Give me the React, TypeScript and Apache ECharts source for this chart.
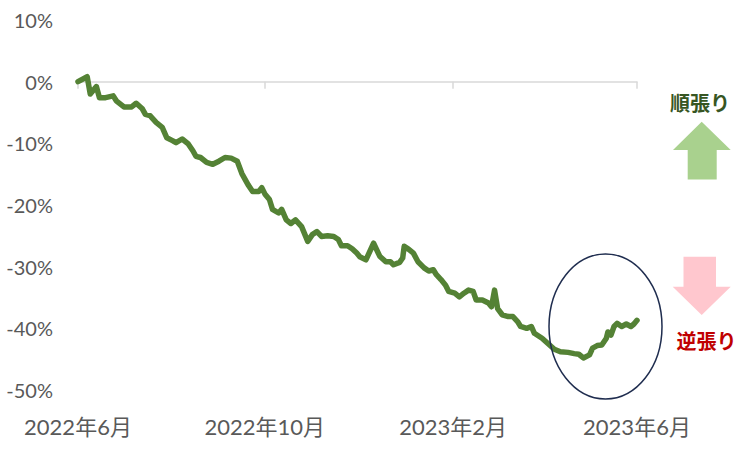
import React, { useEffect, useRef } from "react";
import * as echarts from "echarts";

const dates = [
  "2022-06-01", "2022-06-07", "2022-06-09", "2022-06-13", "2022-06-15", "2022-06-19", "2022-06-24", "2022-06-26",
  "2022-07-01", "2022-07-06", "2022-07-09", "2022-07-13", "2022-07-15", "2022-07-18", "2022-07-22", "2022-07-26",
  "2022-07-29", "2022-08-02", "2022-08-04", "2022-08-08", "2022-08-12", "2022-08-15", "2022-08-17", "2022-08-20",
  "2022-08-24", "2022-08-28", "2022-09-01", "2022-09-05", "2022-09-09", "2022-09-13", "2022-09-16", "2022-09-20",
  "2022-09-23", "2022-09-27", "2022-09-29", "2022-10-01", "2022-10-04", "2022-10-06", "2022-10-10", "2022-10-12",
  "2022-10-15", "2022-10-18", "2022-10-21", "2022-10-25", "2022-10-29", "2022-11-01", "2022-11-04", "2022-11-07",
  "2022-11-11", "2022-11-15", "2022-11-18", "2022-11-20", "2022-11-24", "2022-11-27", "2022-11-30", "2022-12-02",
  "2022-12-06", "2022-12-11", "2022-12-15", "2022-12-19", "2022-12-22", "2022-12-24", "2022-12-28", "2022-12-30",
  "2022-12-31", "2023-01-03", "2023-01-06", "2023-01-09", "2023-01-13", "2023-01-16", "2023-01-19", "2023-01-21",
  "2023-01-24", "2023-01-27", "2023-01-29", "2023-02-02", "2023-02-05", "2023-02-08", "2023-02-11", "2023-02-14",
  "2023-02-16", "2023-02-20", "2023-02-24", "2023-02-26", "2023-02-28", "2023-03-02", "2023-03-05", "2023-03-09",
  "2023-03-12", "2023-03-15", "2023-03-17", "2023-03-21", "2023-03-24", "2023-03-26", "2023-03-31", "2023-04-04",
  "2023-04-08", "2023-04-12", "2023-04-17", "2023-04-21", "2023-04-24", "2023-04-27", "2023-05-01", "2023-05-03",
  "2023-05-06", "2023-05-09", "2023-05-12", "2023-05-13", "2023-05-15", "2023-05-17", "2023-05-19", "2023-05-22",
  "2023-05-25", "2023-05-28", "2023-05-30", "2023-06-01",
];

const returns = [
  0.0, 0.8, -2.0, -0.8, -2.6, -2.6, -2.3, -3.1,
  -4.1, -4.1, -3.5, -4.4, -5.3, -5.5, -6.6, -7.4,
  -9.1, -9.6, -9.9, -9.3, -10.1, -11.2, -12.1, -12.3,
  -13.1, -13.4, -12.9, -12.3, -12.4, -12.9, -14.9, -16.7,
  -17.8, -17.8, -17.2, -18.2, -19.1, -20.7, -21.3, -20.7,
  -22.4, -23.0, -22.4, -23.5, -25.9, -24.8, -24.3, -25.1,
  -25.0, -25.1, -25.6, -26.6, -26.6, -27.1, -27.8, -28.4,
  -28.9, -26.2, -28.3, -29.2, -29.2, -29.7, -29.3, -28.6,
  -26.7, -27.2, -27.8, -29.2, -30.2, -30.7, -30.5, -31.3,
  -32.1, -33.0, -34.0, -34.3, -34.9, -34.3, -33.8, -34.0,
  -35.4, -35.4, -35.9, -36.5, -33.8, -36.8, -37.8, -38.1,
  -38.1, -38.9, -39.7, -40.0, -39.7, -40.8, -41.6, -42.5,
  -43.4, -43.8, -43.9, -44.1, -44.2, -44.8, -44.3, -43.2,
  -42.8, -42.7, -41.6, -40.6, -41.1, -39.7, -39.2, -39.7,
  -39.3, -39.7, -39.3, -38.7,
];

const tickDates = ["2022-06-01", "2022-10-01", "2023-02-01", "2023-06-01"];
const tickLabels = ["2022年6月", "2022年10月", "2023年2月", "2023年6月"];

const yMin = -50;
const yMax = 10;
const yStep = 10;

const START = Date.parse("2022-06-01T00:00:00Z");
const toDay = (d: string) => Math.round((Date.parse(d + "T00:00:00Z") - START) / 86400000);

const FONT = "Lato, 'Noto Sans CJK JP', sans-serif";

export default function App() {
  const ref = useRef<HTMLDivElement>(null);

  useEffect(() => {
    if (!ref.current) return;
    const chart = echarts.init(ref.current, null, { renderer: "svg" });
    const tickDays = tickDates.map(toDay);
    const seriesData = dates.map((d, i) => [toDay(d), returns[i]]);

    const option: any = {
      animation: false,
      backgroundColor: "#ffffff",
      grid: { left: 78, right: 114, top: 20, bottom: 60, containLabel: false },
      xAxis: [
        {
          type: "value",
          min: tickDays[0],
          max: tickDays[tickDays.length - 1],
          position: "bottom",
          axisLine: { show: false, onZero: false },
          axisTick: { show: false },
          splitLine: { show: false },
          axisLabel: {
            customValues: tickDays,
            formatter: (v: number) => {
              const i = tickDays.indexOf(Math.round(v));
              return i >= 0 ? tickLabels[i] : "";
            },
            color: "#595959",
            fontSize: 22,
            fontFamily: FONT,
            margin: 25,
            showMinLabel: true,
            showMaxLabel: true,
          },
        },
        {
          type: "value",
          min: tickDays[0],
          max: tickDays[tickDays.length - 1],
          position: "bottom",
          axisLine: { show: true, onZero: true, lineStyle: { color: "#D9D9D9", width: 1.5 } },
          axisTick: {
            show: true,
            customValues: tickDays,
            length: 7,
            lineStyle: { color: "#D9D9D9", width: 1.5 },
          },
          axisLabel: { show: false },
          splitLine: { show: false },
        },
      ],
      yAxis: {
        type: "value",
        min: yMin,
        max: yMax,
        interval: yStep,
        axisLine: { show: false },
        axisTick: { show: false },
        splitLine: { show: false },
        axisLabel: {
          formatter: (v: number) => `${v}%`,
          color: "#595959",
          fontSize: 20,
          fontFamily: FONT,
          margin: 25,
        },
      },
      series: [
        {
          type: "line",
          xAxisIndex: 0,
          data: seriesData,
          showSymbol: false,
          symbol: "none",
          z: 5,
          lineStyle: { color: "#548235", width: 5.5, join: "round", cap: "round" },
        },
      ],
      graphic: [
        {
          type: "ellipse",
          shape: { cx: 605.5, cy: 326.5, rx: 56.5, ry: 72.5 },
          style: { fill: "none", stroke: "#1F2D4F", lineWidth: 1.5 },
          z: 10,
        },
        {
          type: "polygon",
          shape: {
            points: [
              [701.7, 121.7],
              [730.7, 150],
              [716.7, 150],
              [716.7, 179.5],
              [687.7, 179.5],
              [687.7, 150],
              [673, 150],
            ],
          },
          style: { fill: "#A9D18E" },
        },
        {
          type: "polygon",
          shape: {
            points: [
              [683.5, 256.7],
              [716, 256.7],
              [716, 286.7],
              [730.7, 286.7],
              [701.7, 315],
              [672.7, 286.7],
              [683.5, 286.7],
            ],
          },
          style: { fill: "#FFC7CE" },
        },
        {
          type: "text",
          x: 700,
          y: 102,
          style: {
            text: "順張り",
            fill: "#375623",
            font: "bold 20px 'Noto Sans CJK JP', sans-serif",
            align: "center",
            verticalAlign: "middle",
          },
        },
        {
          type: "text",
          x: 706.5,
          y: 340,
          style: {
            text: "逆張り",
            fill: "#C00000",
            font: "bold 20px 'Noto Sans CJK JP', sans-serif",
            align: "center",
            verticalAlign: "middle",
          },
        },
      ],
    };

    chart.setOption(option);
    return () => chart.dispose();
  }, []);

  return (
    <div
      ref={ref}
      style={{ position: "fixed", left: 0, top: 0, width: 751, height: 450, background: "#fff" }}
    />
  );
}
